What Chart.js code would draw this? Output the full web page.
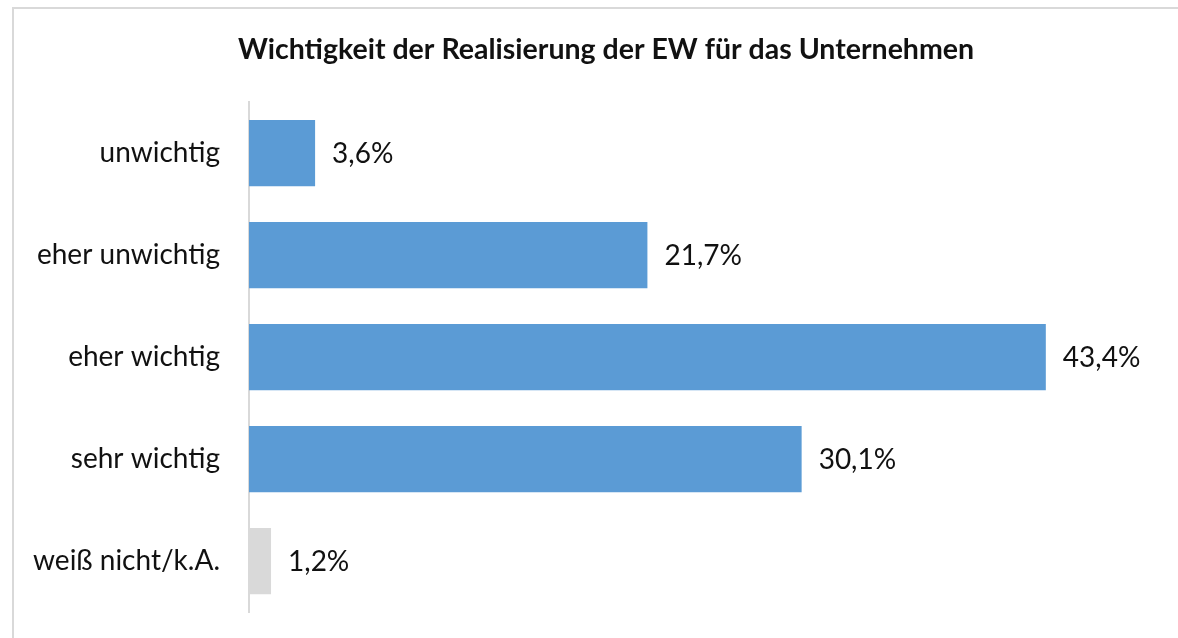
<!DOCTYPE html>
<html>
<head>
<meta charset="utf-8">
<script src="https://cdn.jsdelivr.net/npm/chart.js@4/dist/chart.umd.min.js"></script>
<style>
  html, body { margin: 0; padding: 0; background: #fff; overflow: hidden; }
  #frame { position: absolute; left: 12px; top: 7px; width: 1300px; height: 800px;
           border: 2px solid #d9d9d9; box-sizing: border-box; }
  #wrap { position: absolute; left: 0; top: 0; width: 1178px; height: 638px; }
</style>
</head>
<body>
<div id="frame"></div>
<div id="wrap"><canvas id="myChart"></canvas></div>
<script>
// chart data
const categories = ["unwichtig", "eher unwichtig", "eher wichtig", "sehr wichtig", "weiß nicht/k.A."]
const percentages = [3.6, 21.7, 43.4, 30.1, 1.2]
const barColors = ["#5b9bd5", "#5b9bd5", "#5b9bd5", "#5b9bd5", "#d9d9d9"]
const chartTitle = "Wichtigkeit der Realisierung der EW für das Unternehmen"

const FONT = "Lato, 'Open Sans', sans-serif"

// draws "3,6%" etc. right of each bar
const valueLabels = {
  id: "valueLabels",
  afterDatasetsDraw(chart) {
    const ctx = chart.ctx
    const meta = chart.getDatasetMeta(0)
    ctx.save()
    ctx.font = "28px " + FONT
    ctx.fillStyle = "#111"
    ctx.textAlign = "left"
    ctx.textBaseline = "middle"
    meta.data.forEach(function (bar, i) {
      let txt = percentages[i].toFixed(1).replace(".", ",") + "%"
      ctx.fillText(txt, bar.x + 17, bar.y + 1)
    })
    ctx.restore()
  }
}

// title in the original sits a bit right of the canvas centre
const titleShift = {
  id: "titleShift",
  afterLayout(chart) {
    if (chart.titleBlock) chart.titleBlock.left = 45
  }
}

const ctx = document.getElementById("myChart").getContext("2d")
const chart = new Chart(ctx, {
  type: "bar",
  data: {
    labels: categories,
    datasets: [{
      data: percentages,
      backgroundColor: barColors,
      borderWidth: 0,
      categoryPercentage: 1,
      barPercentage: 0.65
    }]
  },
  options: {
    indexAxis: "y",
    responsive: true,
    maintainAspectRatio: false,
    animation: false,
    layout: { padding: { left: 0, right: 11, top: 0, bottom: 26 } },
    plugins: {
      legend: { display: false },
      tooltip: { enabled: false },
      title: {
        display: true,
        text: chartTitle,
        color: "#111",
        font: { family: FONT, size: 28.5, weight: "bold", lineHeight: 1.2 },
        padding: { top: 33, bottom: 35 }
      }
    },
    scales: {
      x: { display: false, min: 0, max: 50 },
      y: {
        grid: { display: false },
        border: { display: true, color: "#d9d9d9", width: 2 },
        ticks: { color: "#111", font: { family: FONT, size: 28 }, padding: 21 },
        afterFit(scale) {
          scale.width = 249
          scale.paddingTop = 0
          scale.paddingBottom = 0
        }
      }
    }
  },
  plugins: [valueLabels, titleShift]
})
</script>
</body>
</html>
